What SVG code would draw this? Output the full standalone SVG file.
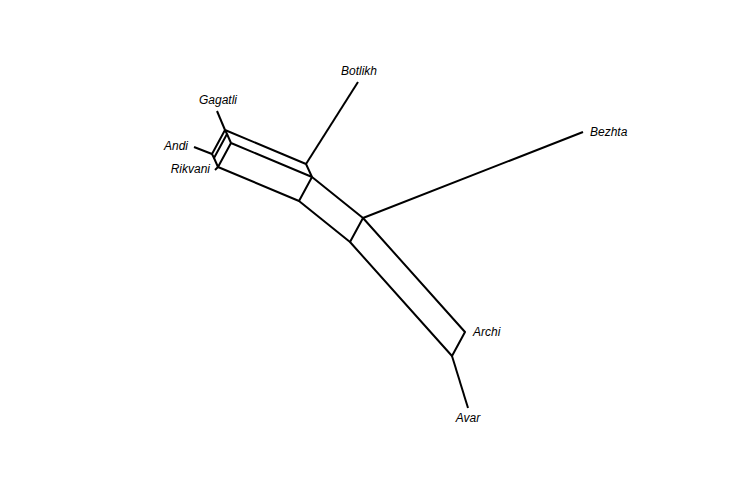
<svg xmlns="http://www.w3.org/2000/svg" width="748" height="504" viewBox="0 0 748 504">
<style>
.e{stroke:#000;stroke-width:2;fill:none;stroke-linecap:butt;stroke-linejoin:round}
.t{font-family:"Liberation Sans",Arial,sans-serif;font-style:italic;font-size:12px;fill:#000}
</style>
<rect width="748" height="504" fill="#fff"/>
<g id="connectors" class="e">
<path d="M225,130 L217,111"/>
<path d="M212,154 L194,147"/>
<path d="M218,167 L215,170"/>
<path d="M306,164 L358,82"/>
<path d="M363,218 L583,132"/>
<path d="M452,356 L468,408"/>
<path d="M225,130 L227,134 L231,143"/>
<path d="M225,130 L212,154 L214,158 L227,134"/>
<path d="M214,158 L218,167 L231,143"/>
<path d="M225,130 L306,164 L312,177 L231,143"/>
<path d="M218,167 L299,201 L312,177"/>
<path d="M312,177 L363,218 L350,242 L299,201"/>
<path d="M363,218 L465,332 L452,356 L350,242"/>
</g>
<g id="Botlikh"><text class="t" x="359" y="75" text-anchor="middle">Botlikh</text></g>
<g id="Gagatli"><text class="t" x="218" y="104" text-anchor="middle">Gagatli</text></g>
<g id="Andi"><text class="t" x="188" y="150" text-anchor="end">Andi</text></g>
<g id="Rikvani"><text class="t" x="210" y="173" text-anchor="end">Rikvani</text></g>
<g id="Bezhta"><text class="t" x="590" y="136">Bezhta</text></g>
<g id="Archi"><text class="t" x="473" y="336">Archi</text></g>
<g id="Avar"><text class="t" x="468" y="422" text-anchor="middle">Avar</text></g>
</svg>
